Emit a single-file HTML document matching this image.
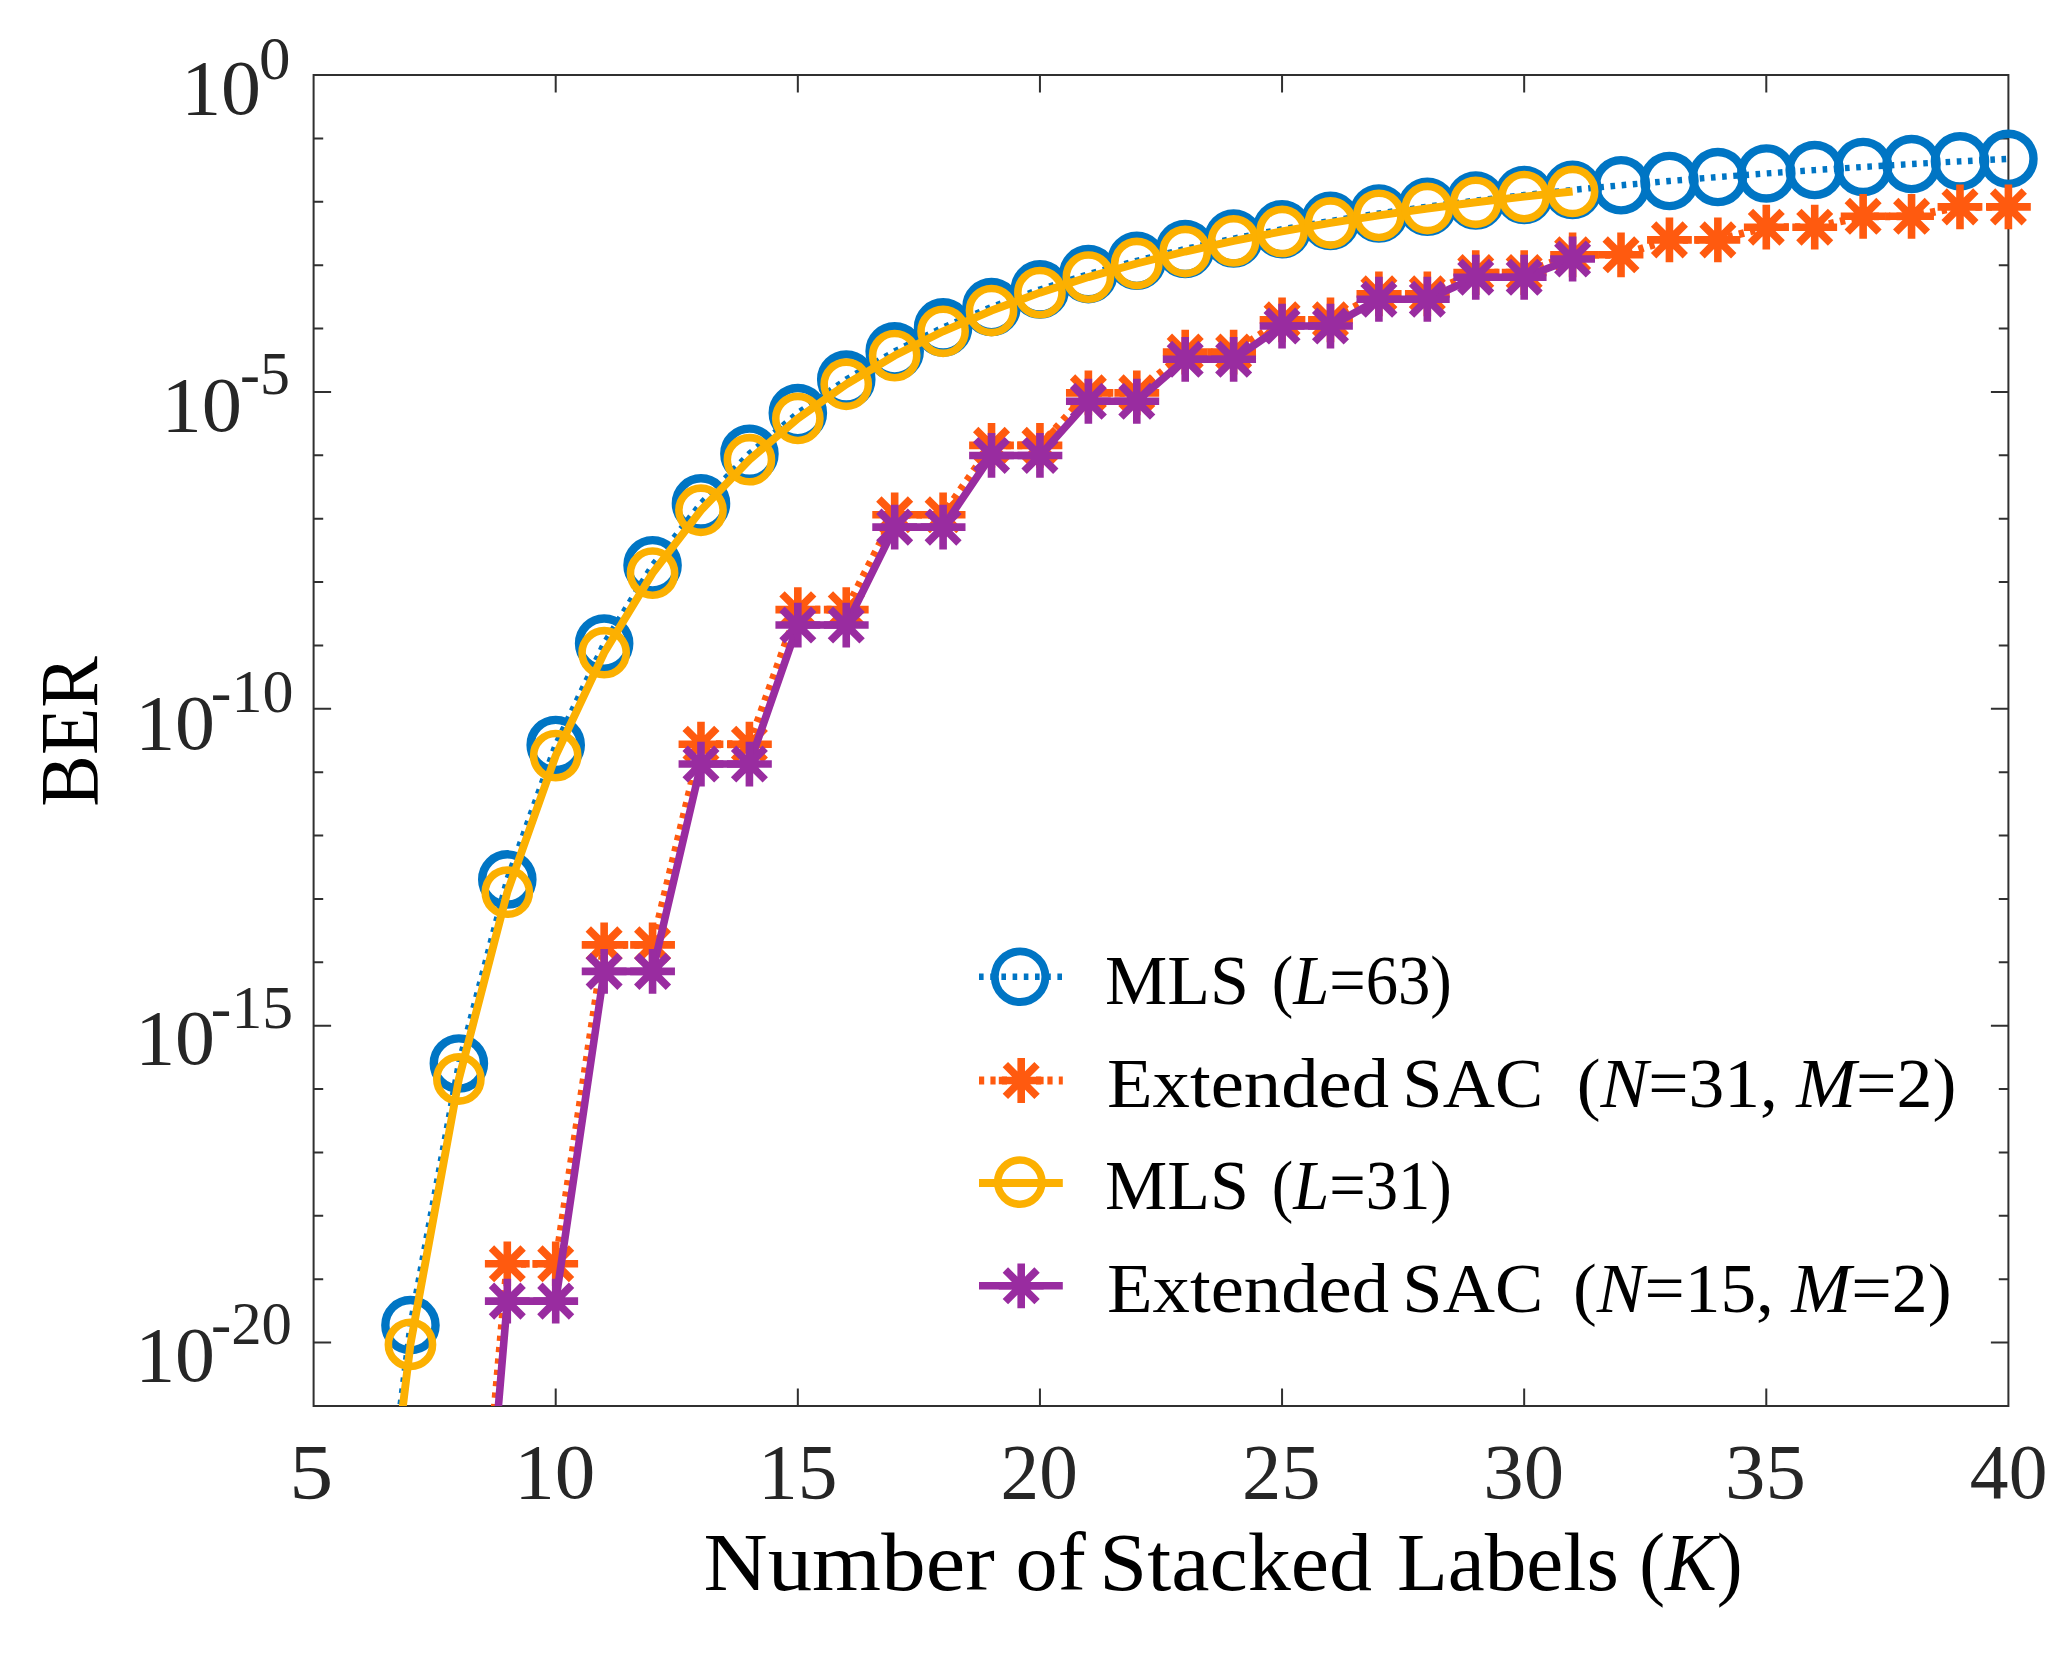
<!DOCTYPE html>
<html><head><meta charset="utf-8"><title>BER vs Number of Stacked Labels</title>
<style>html,body{margin:0;padding:0;background:#fff;overflow:hidden}svg{display:block}text{font-family:"Liberation Serif",serif}</style></head><body>
<svg width="2065" height="1659" viewBox="0 0 2065 1659">
<rect width="2065" height="1659" fill="#fff"/>
<defs><clipPath id="ax"><rect x="313.6" y="75" width="1694.8" height="1331"/></clipPath></defs>
<g stroke="#303030" stroke-width="2" fill="none"><rect x="313.6" y="75" width="1694.8" height="1331"/><path d="M555.71 1406v-17.5M555.71 75v17.5M797.83 1406v-17.5M797.83 75v17.5M1039.94 1406v-17.5M1039.94 75v17.5M1282.06 1406v-17.5M1282.06 75v17.5M1524.17 1406v-17.5M1524.17 75v17.5M1766.29 1406v-17.5M1766.29 75v17.5M313.6 138.38h9.6M2008.4 138.38h-9.6M313.6 201.76h9.6M2008.4 201.76h-9.6M313.6 265.14h9.6M2008.4 265.14h-9.6M313.6 328.52h9.6M2008.4 328.52h-9.6M313.6 391.9h17.5M2008.4 391.9h-17.5M313.6 455.29h9.6M2008.4 455.29h-9.6M313.6 518.67h9.6M2008.4 518.67h-9.6M313.6 582.05h9.6M2008.4 582.05h-9.6M313.6 645.43h9.6M2008.4 645.43h-9.6M313.6 708.81h17.5M2008.4 708.81h-17.5M313.6 772.19h9.6M2008.4 772.19h-9.6M313.6 835.57h9.6M2008.4 835.57h-9.6M313.6 898.95h9.6M2008.4 898.95h-9.6M313.6 962.33h9.6M2008.4 962.33h-9.6M313.6 1025.71h17.5M2008.4 1025.71h-17.5M313.6 1089.1h9.6M2008.4 1089.1h-9.6M313.6 1152.48h9.6M2008.4 1152.48h-9.6M313.6 1215.86h9.6M2008.4 1215.86h-9.6M313.6 1279.24h9.6M2008.4 1279.24h-9.6M313.6 1342.62h17.5M2008.4 1342.62h-17.5"/></g>
<g clip-path="url(#ax)"><polyline points="362.02,1715.56 410.45,1325.14 458.87,1063.48 507.29,879.42 555.71,744.93 604.14,643.59 652.56,565.26 700.98,503.42 749.41,453.7 797.83,413.08 846.25,379.46 894.67,351.28 943.1,327.41 991.52,307.01 1039.94,289.41 1088.37,274.12 1136.79,260.74 1185.21,248.96 1233.63,238.52 1282.06,229.23 1330.48,220.91 1378.9,213.43 1427.33,206.68 1475.75,200.56 1524.17,195 1572.59,189.92 1621.02,185.27 1669.44,181 1717.86,177.07 1766.29,173.43 1814.71,170.07 1863.13,166.95 1911.55,164.05 1959.98,161.35 2008.4,158.83" fill="none" stroke="#0075c4" stroke-width="6.4" stroke-dasharray="4.6 6.6"/></g>
<g fill="none" stroke="#0075c4" stroke-width="8.4"><circle cx="410.45" cy="1325.14" r="25.1"/><circle cx="458.87" cy="1063.48" r="25.1"/><circle cx="507.29" cy="879.42" r="25.1"/><circle cx="555.71" cy="744.93" r="25.1"/><circle cx="604.14" cy="643.59" r="25.1"/><circle cx="652.56" cy="565.26" r="25.1"/><circle cx="700.98" cy="503.42" r="25.1"/><circle cx="749.41" cy="453.7" r="25.1"/><circle cx="797.83" cy="413.08" r="25.1"/><circle cx="846.25" cy="379.46" r="25.1"/><circle cx="894.67" cy="351.28" r="25.1"/><circle cx="943.1" cy="327.41" r="25.1"/><circle cx="991.52" cy="307.01" r="25.1"/><circle cx="1039.94" cy="289.41" r="25.1"/><circle cx="1088.37" cy="274.12" r="25.1"/><circle cx="1136.79" cy="260.74" r="25.1"/><circle cx="1185.21" cy="248.96" r="25.1"/><circle cx="1233.63" cy="238.52" r="25.1"/><circle cx="1282.06" cy="229.23" r="25.1"/><circle cx="1330.48" cy="220.91" r="25.1"/><circle cx="1378.9" cy="213.43" r="25.1"/><circle cx="1427.33" cy="206.68" r="25.1"/><circle cx="1475.75" cy="200.56" r="25.1"/><circle cx="1524.17" cy="195" r="25.1"/><circle cx="1572.59" cy="189.92" r="25.1"/><circle cx="1621.02" cy="185.27" r="25.1"/><circle cx="1669.44" cy="181" r="25.1"/><circle cx="1717.86" cy="177.07" r="25.1"/><circle cx="1766.29" cy="173.43" r="25.1"/><circle cx="1814.71" cy="170.07" r="25.1"/><circle cx="1863.13" cy="166.95" r="25.1"/><circle cx="1911.55" cy="164.05" r="25.1"/><circle cx="1959.98" cy="161.35" r="25.1"/><circle cx="2008.4" cy="158.83" r="25.1"/></g>
<g clip-path="url(#ax)"><polyline points="458.87,1817.99 507.29,1263.8 555.71,1263.8 604.14,944.86 652.56,944.86 700.98,744.26 749.41,744.26 797.83,609.66 846.25,609.66 894.67,514.81 943.1,514.81 991.52,445.34 1039.94,445.34 1088.37,392.84 1136.79,392.84 1185.21,352.14 1233.63,352.14 1282.06,319.89 1330.48,319.89 1378.9,293.87 1427.33,293.87 1475.75,272.53 1524.17,272.53 1572.59,254.8 1621.02,254.8 1669.44,239.88 1717.86,239.88 1766.29,227.2 1814.71,227.2 1863.13,216.31 1911.55,216.31 1959.98,206.88 2008.4,206.88" fill="none" stroke="#ff5a0f" stroke-width="7.8" stroke-dasharray="5.2 6.2"/></g>
<g><path d="M484.89 1263.8H529.69M507.29 1241.4V1286.2M491.45 1247.96L523.13 1279.63M491.45 1279.63L523.13 1247.96" stroke="#ff5a0f" stroke-width="7.6" fill="none"/><path d="M533.31 1263.8H578.11M555.71 1241.4V1286.2M539.88 1247.96L571.55 1279.63M539.88 1279.63L571.55 1247.96" stroke="#ff5a0f" stroke-width="7.6" fill="none"/><path d="M581.74 944.86H626.54M604.14 922.46V967.26M588.3 929.02L619.98 960.7M588.3 960.7L619.98 929.02" stroke="#ff5a0f" stroke-width="7.6" fill="none"/><path d="M630.16 944.86H674.96M652.56 922.46V967.26M636.72 929.02L668.4 960.7M636.72 960.7L668.4 929.02" stroke="#ff5a0f" stroke-width="7.6" fill="none"/><path d="M678.58 744.26H723.38M700.98 721.86V766.66M685.14 728.42L716.82 760.1M685.14 760.1L716.82 728.42" stroke="#ff5a0f" stroke-width="7.6" fill="none"/><path d="M727.01 744.26H771.81M749.41 721.86V766.66M733.57 728.42L765.24 760.1M733.57 760.1L765.24 728.42" stroke="#ff5a0f" stroke-width="7.6" fill="none"/><path d="M775.43 609.66H820.23M797.83 587.26V632.06M781.99 593.82L813.67 625.5M781.99 625.5L813.67 593.82" stroke="#ff5a0f" stroke-width="7.6" fill="none"/><path d="M823.85 609.66H868.65M846.25 587.26V632.06M830.41 593.82L862.09 625.5M830.41 625.5L862.09 593.82" stroke="#ff5a0f" stroke-width="7.6" fill="none"/><path d="M872.27 514.81H917.07M894.67 492.41V537.21M878.84 498.97L910.51 530.65M878.84 530.65L910.51 498.97" stroke="#ff5a0f" stroke-width="7.6" fill="none"/><path d="M920.7 514.81H965.5M943.1 492.41V537.21M927.26 498.97L958.94 530.65M927.26 530.65L958.94 498.97" stroke="#ff5a0f" stroke-width="7.6" fill="none"/><path d="M969.12 445.34H1013.92M991.52 422.94V467.74M975.68 429.5L1007.36 461.18M975.68 461.18L1007.36 429.5" stroke="#ff5a0f" stroke-width="7.6" fill="none"/><path d="M1017.54 445.34H1062.34M1039.94 422.94V467.74M1024.1 429.5L1055.78 461.18M1024.1 461.18L1055.78 429.5" stroke="#ff5a0f" stroke-width="7.6" fill="none"/><path d="M1065.97 392.84H1110.77M1088.37 370.44V415.24M1072.53 377L1104.2 408.68M1072.53 408.68L1104.2 377" stroke="#ff5a0f" stroke-width="7.6" fill="none"/><path d="M1114.39 392.84H1159.19M1136.79 370.44V415.24M1120.95 377L1152.63 408.68M1120.95 408.68L1152.63 377" stroke="#ff5a0f" stroke-width="7.6" fill="none"/><path d="M1162.81 352.14H1207.61M1185.21 329.74V374.54M1169.37 336.3L1201.05 367.97M1169.37 367.97L1201.05 336.3" stroke="#ff5a0f" stroke-width="7.6" fill="none"/><path d="M1211.23 352.14H1256.03M1233.63 329.74V374.54M1217.8 336.3L1249.47 367.97M1217.8 367.97L1249.47 336.3" stroke="#ff5a0f" stroke-width="7.6" fill="none"/><path d="M1259.66 319.89H1304.46M1282.06 297.49V342.29M1266.22 304.05L1297.9 335.73M1266.22 335.73L1297.9 304.05" stroke="#ff5a0f" stroke-width="7.6" fill="none"/><path d="M1308.08 319.89H1352.88M1330.48 297.49V342.29M1314.64 304.05L1346.32 335.73M1314.64 335.73L1346.32 304.05" stroke="#ff5a0f" stroke-width="7.6" fill="none"/><path d="M1356.5 293.87H1401.3M1378.9 271.47V316.27M1363.06 278.03L1394.74 309.7M1363.06 309.7L1394.74 278.03" stroke="#ff5a0f" stroke-width="7.6" fill="none"/><path d="M1404.93 293.87H1449.73M1427.33 271.47V316.27M1411.49 278.03L1443.16 309.7M1411.49 309.7L1443.16 278.03" stroke="#ff5a0f" stroke-width="7.6" fill="none"/><path d="M1453.35 272.53H1498.15M1475.75 250.13V294.93M1459.91 256.69L1491.59 288.37M1459.91 288.37L1491.59 256.69" stroke="#ff5a0f" stroke-width="7.6" fill="none"/><path d="M1501.77 272.53H1546.57M1524.17 250.13V294.93M1508.33 256.69L1540.01 288.37M1508.33 288.37L1540.01 256.69" stroke="#ff5a0f" stroke-width="7.6" fill="none"/><path d="M1550.19 254.8H1594.99M1572.59 232.4V277.2M1556.76 238.96L1588.43 270.64M1556.76 270.64L1588.43 238.96" stroke="#ff5a0f" stroke-width="7.6" fill="none"/><path d="M1598.62 254.8H1643.42M1621.02 232.4V277.2M1605.18 238.96L1636.86 270.64M1605.18 270.64L1636.86 238.96" stroke="#ff5a0f" stroke-width="7.6" fill="none"/><path d="M1647.04 239.88H1691.84M1669.44 217.48V262.28M1653.6 224.04L1685.28 255.72M1653.6 255.72L1685.28 224.04" stroke="#ff5a0f" stroke-width="7.6" fill="none"/><path d="M1695.46 239.88H1740.26M1717.86 217.48V262.28M1702.02 224.04L1733.7 255.72M1702.02 255.72L1733.7 224.04" stroke="#ff5a0f" stroke-width="7.6" fill="none"/><path d="M1743.89 227.2H1788.69M1766.29 204.8V249.6M1750.45 211.36L1782.12 243.04M1750.45 243.04L1782.12 211.36" stroke="#ff5a0f" stroke-width="7.6" fill="none"/><path d="M1792.31 227.2H1837.11M1814.71 204.8V249.6M1798.87 211.36L1830.55 243.04M1798.87 243.04L1830.55 211.36" stroke="#ff5a0f" stroke-width="7.6" fill="none"/><path d="M1840.73 216.31H1885.53M1863.13 193.91V238.71M1847.29 200.47L1878.97 232.15M1847.29 232.15L1878.97 200.47" stroke="#ff5a0f" stroke-width="7.6" fill="none"/><path d="M1889.15 216.31H1933.95M1911.55 193.91V238.71M1895.72 200.47L1927.39 232.15M1895.72 232.15L1927.39 200.47" stroke="#ff5a0f" stroke-width="7.6" fill="none"/><path d="M1937.58 206.88H1982.38M1959.98 184.48V229.28M1944.14 191.04L1975.82 222.72M1944.14 222.72L1975.82 191.04" stroke="#ff5a0f" stroke-width="7.6" fill="none"/><path d="M1986 206.88H2030.8M2008.4 184.48V229.28M1992.56 191.04L2024.24 222.72M1992.56 222.72L2024.24 191.04" stroke="#ff5a0f" stroke-width="7.6" fill="none"/></g>
<g clip-path="url(#ax)"><polyline points="362.02,1740.08 410.45,1344.41 458.87,1079.01 507.29,892.21 555.71,755.65 604.14,652.71 652.56,573.13 700.98,510.27 749.41,459.72 797.83,418.43 846.25,384.24 894.67,355.59 943.1,331.31 991.52,310.56 1039.94,292.66 1088.37,277.11 1136.79,263.5 1185.21,251.52 1233.63,240.9 1282.06,231.45 1330.48,222.98 1378.9,215.38 1427.33,208.51 1475.75,202.29 1524.17,196.63 1572.59,191.47" fill="none" stroke="#fcb001" stroke-width="7.9" stroke-linejoin="round"/></g>
<g fill="none" stroke="#fcb001" stroke-width="7.6"><circle cx="410.45" cy="1344.41" r="22.1"/><circle cx="458.87" cy="1079.01" r="22.1"/><circle cx="507.29" cy="892.21" r="22.1"/><circle cx="555.71" cy="755.65" r="22.1"/><circle cx="604.14" cy="652.71" r="22.1"/><circle cx="652.56" cy="573.13" r="22.1"/><circle cx="700.98" cy="510.27" r="22.1"/><circle cx="749.41" cy="459.72" r="22.1"/><circle cx="797.83" cy="418.43" r="22.1"/><circle cx="846.25" cy="384.24" r="22.1"/><circle cx="894.67" cy="355.59" r="22.1"/><circle cx="943.1" cy="331.31" r="22.1"/><circle cx="991.52" cy="310.56" r="22.1"/><circle cx="1039.94" cy="292.66" r="22.1"/><circle cx="1088.37" cy="277.11" r="22.1"/><circle cx="1136.79" cy="263.5" r="22.1"/><circle cx="1185.21" cy="251.52" r="22.1"/><circle cx="1233.63" cy="240.9" r="22.1"/><circle cx="1282.06" cy="231.45" r="22.1"/><circle cx="1330.48" cy="222.98" r="22.1"/><circle cx="1378.9" cy="215.38" r="22.1"/><circle cx="1427.33" cy="208.51" r="22.1"/><circle cx="1475.75" cy="202.29" r="22.1"/><circle cx="1524.17" cy="196.63" r="22.1"/><circle cx="1572.59" cy="191.47" r="22.1"/></g>
<g clip-path="url(#ax)"><polyline points="458.87,1874.62 507.29,1301.13 555.71,1301.13 604.14,971.36 652.56,971.36 700.98,764.06 749.41,764.06 797.83,625.04 846.25,625.04 894.67,527.12 943.1,527.12 991.52,455.43 1039.94,455.43 1088.37,401.27 1136.79,401.27 1185.21,359.3 1233.63,359.3 1282.06,326.06 1330.48,326.06 1378.9,299.24 1427.33,299.24 1475.75,277.27 1524.17,277.27 1572.59,259" fill="none" stroke="#992ca0" stroke-width="7.6" stroke-linejoin="round"/></g>
<g><path d="M484.89 1301.13H529.69M507.29 1278.73V1323.53M491.45 1285.29L523.13 1316.97M491.45 1316.97L523.13 1285.29" stroke="#992ca0" stroke-width="7.6" fill="none"/><path d="M533.31 1301.13H578.11M555.71 1278.73V1323.53M539.88 1285.29L571.55 1316.97M539.88 1316.97L571.55 1285.29" stroke="#992ca0" stroke-width="7.6" fill="none"/><path d="M581.74 971.36H626.54M604.14 948.96V993.76M588.3 955.52L619.98 987.19M588.3 987.19L619.98 955.52" stroke="#992ca0" stroke-width="7.6" fill="none"/><path d="M630.16 971.36H674.96M652.56 948.96V993.76M636.72 955.52L668.4 987.19M636.72 987.19L668.4 955.52" stroke="#992ca0" stroke-width="7.6" fill="none"/><path d="M678.58 764.06H723.38M700.98 741.66V786.46M685.14 748.22L716.82 779.89M685.14 779.89L716.82 748.22" stroke="#992ca0" stroke-width="7.6" fill="none"/><path d="M727.01 764.06H771.81M749.41 741.66V786.46M733.57 748.22L765.24 779.89M733.57 779.89L765.24 748.22" stroke="#992ca0" stroke-width="7.6" fill="none"/><path d="M775.43 625.04H820.23M797.83 602.64V647.44M781.99 609.2L813.67 640.88M781.99 640.88L813.67 609.2" stroke="#992ca0" stroke-width="7.6" fill="none"/><path d="M823.85 625.04H868.65M846.25 602.64V647.44M830.41 609.2L862.09 640.88M830.41 640.88L862.09 609.2" stroke="#992ca0" stroke-width="7.6" fill="none"/><path d="M872.27 527.12H917.07M894.67 504.72V549.52M878.84 511.28L910.51 542.96M878.84 542.96L910.51 511.28" stroke="#992ca0" stroke-width="7.6" fill="none"/><path d="M920.7 527.12H965.5M943.1 504.72V549.52M927.26 511.28L958.94 542.96M927.26 542.96L958.94 511.28" stroke="#992ca0" stroke-width="7.6" fill="none"/><path d="M969.12 455.43H1013.92M991.52 433.03V477.83M975.68 439.59L1007.36 471.27M975.68 471.27L1007.36 439.59" stroke="#992ca0" stroke-width="7.6" fill="none"/><path d="M1017.54 455.43H1062.34M1039.94 433.03V477.83M1024.1 439.59L1055.78 471.27M1024.1 471.27L1055.78 439.59" stroke="#992ca0" stroke-width="7.6" fill="none"/><path d="M1065.97 401.27H1110.77M1088.37 378.87V423.67M1072.53 385.44L1104.2 417.11M1072.53 417.11L1104.2 385.44" stroke="#992ca0" stroke-width="7.6" fill="none"/><path d="M1114.39 401.27H1159.19M1136.79 378.87V423.67M1120.95 385.44L1152.63 417.11M1120.95 417.11L1152.63 385.44" stroke="#992ca0" stroke-width="7.6" fill="none"/><path d="M1162.81 359.3H1207.61M1185.21 336.9V381.7M1169.37 343.46L1201.05 375.14M1169.37 375.14L1201.05 343.46" stroke="#992ca0" stroke-width="7.6" fill="none"/><path d="M1211.23 359.3H1256.03M1233.63 336.9V381.7M1217.8 343.46L1249.47 375.14M1217.8 375.14L1249.47 343.46" stroke="#992ca0" stroke-width="7.6" fill="none"/><path d="M1259.66 326.06H1304.46M1282.06 303.66V348.46M1266.22 310.22L1297.9 341.9M1266.22 341.9L1297.9 310.22" stroke="#992ca0" stroke-width="7.6" fill="none"/><path d="M1308.08 326.06H1352.88M1330.48 303.66V348.46M1314.64 310.22L1346.32 341.9M1314.64 341.9L1346.32 310.22" stroke="#992ca0" stroke-width="7.6" fill="none"/><path d="M1356.5 299.24H1401.3M1378.9 276.84V321.64M1363.06 283.4L1394.74 315.08M1363.06 315.08L1394.74 283.4" stroke="#992ca0" stroke-width="7.6" fill="none"/><path d="M1404.93 299.24H1449.73M1427.33 276.84V321.64M1411.49 283.4L1443.16 315.08M1411.49 315.08L1443.16 283.4" stroke="#992ca0" stroke-width="7.6" fill="none"/><path d="M1453.35 277.27H1498.15M1475.75 254.87V299.67M1459.91 261.43L1491.59 293.1M1459.91 293.1L1491.59 261.43" stroke="#992ca0" stroke-width="7.6" fill="none"/><path d="M1501.77 277.27H1546.57M1524.17 254.87V299.67M1508.33 261.43L1540.01 293.1M1508.33 293.1L1540.01 261.43" stroke="#992ca0" stroke-width="7.6" fill="none"/><path d="M1550.19 259H1594.99M1572.59 236.6V281.4M1556.76 243.16L1588.43 274.84M1556.76 274.84L1588.43 243.16" stroke="#992ca0" stroke-width="7.6" fill="none"/></g>
<path d="M979 976.7H1062.8" stroke="#0075c4" stroke-width="6.4" stroke-dasharray="4.6 6.6" fill="none"/>
<circle cx="1020.1" cy="976.7" r="25.3" fill="none" stroke="#0075c4" stroke-width="7.9"/>
<path d="M979 1080.5H1062.8" stroke="#ff5a0f" stroke-width="7.8" stroke-dasharray="5.2 6.2" fill="none"/>
<path d="M998.8 1080.5H1043.6M1021.2 1058.1V1102.9M1005.36 1064.66L1037.04 1096.34M1005.36 1096.34L1037.04 1064.66" stroke="#ff5a0f" stroke-width="7.6" fill="none"/>
<path d="M979 1183.1H1062.8" stroke="#fcb001" stroke-width="8" fill="none"/>
<circle cx="1019.8" cy="1182.1" r="22.1" fill="none" stroke="#fcb001" stroke-width="7.6"/>
<path d="M979 1285.8H1062.8" stroke="#992ca0" stroke-width="7.5" fill="none"/>
<path d="M998.8 1285.8H1043.6M1021.2 1263.4V1308.2M1005.36 1269.96L1037.04 1301.64M1005.36 1301.64L1037.04 1269.96" stroke="#992ca0" stroke-width="7.6" fill="none"/>
<text transform="translate(311.17 1498.3) scale(1.1292 1)" font-size="78" text-anchor="middle" fill="#262626" id="xt5">5</text>
<text transform="translate(554.74 1498.3) scale(1.0397 1)" font-size="78" text-anchor="middle" fill="#262626" id="xt10">10</text>
<text transform="translate(797.83 1498.3) scale(1.02 1)" font-size="78" text-anchor="middle" fill="#262626" id="xt15">15</text>
<text transform="translate(1039.16 1498.3) scale(0.9896 1)" font-size="78" text-anchor="middle" fill="#262626" id="xt20">20</text>
<text transform="translate(1281.21 1498.3) scale(1.0079 1)" font-size="78" text-anchor="middle" fill="#262626" id="xt25">25</text>
<text transform="translate(1523.72 1498.3) scale(1.0355 1)" font-size="78" text-anchor="middle" fill="#262626" id="xt30">30</text>
<text transform="translate(1765.43 1498.3) scale(1.0359 1)" font-size="78" text-anchor="middle" fill="#262626" id="xt35">35</text>
<text transform="translate(2008.63 1498.3) scale(0.9942 1)" font-size="78" text-anchor="middle" fill="#262626" id="xt40">40</text>
<text transform="translate(290.49 78.5) scale(1.0149 1)" font-size="62" text-anchor="end" fill="#262626" id="ye0">0</text>
<text transform="translate(261.03 113.9) scale(1.0245 1)" font-size="78" text-anchor="end" fill="#262626" id="ym0">10</text>
<text transform="translate(289.85 393.6) scale(0.9665 1)" font-size="62" text-anchor="end" fill="#262626" id="ye5">-5</text>
<text transform="translate(241.94 431) scale(1.0318 1)" font-size="78" text-anchor="end" fill="#262626" id="ym5">10</text>
<text transform="translate(293.54 712) scale(1.0008 1)" font-size="62" text-anchor="end" fill="#262626" id="ye10">-10</text>
<text transform="translate(215.06 749.3) scale(1.0247 1)" font-size="78" text-anchor="end" fill="#262626" id="ym10">10</text>
<text transform="translate(293.02 1028.1) scale(0.9942 1)" font-size="62" text-anchor="end" fill="#262626" id="ye15">-15</text>
<text transform="translate(215.06 1063.9) scale(1.0247 1)" font-size="78" text-anchor="end" fill="#262626" id="ym15">10</text>
<text transform="translate(291.96 1343.9) scale(0.9808 1)" font-size="62" text-anchor="end" fill="#262626" id="ye20">-20</text>
<text transform="translate(215.06 1380.7) scale(1.0247 1)" font-size="78" text-anchor="end" fill="#262626" id="ym20">10</text>
<text transform="translate(1105.12 1004.1) scale(0.9887 1)" font-size="70.8" text-anchor="start" fill="#000" id="l1a">MLS</text>
<text transform="translate(1271.75 1004.1) scale(0.9131 1)" font-size="70.8" text-anchor="start" fill="#000" id="l1b">(<tspan font-style="italic">L</tspan>=63)</text>
<text transform="translate(1106.99 1107.1) scale(1.0553 1)" font-size="70.8" text-anchor="start" fill="#000" id="l2a">Extended</text>
<text transform="translate(1402.37 1107.1) scale(1.0227 1)" font-size="70.8" text-anchor="start" fill="#000" id="l2s">SAC</text>
<text transform="translate(1576.68 1107.1) scale(1.0101 1)" font-size="70.8" text-anchor="start" fill="#000" id="l2b">(<tspan font-style="italic">N</tspan>=31,</text>
<text transform="translate(1796.13 1107.1) scale(1.016 1)" font-size="70.8" text-anchor="start" fill="#000" id="l2c"><tspan font-style="italic">M</tspan>=2)</text>
<text transform="translate(1105.12 1208.8) scale(0.9887 1)" font-size="70.8" text-anchor="start" fill="#000" id="l3a">MLS</text>
<text transform="translate(1271.75 1208.8) scale(0.9131 1)" font-size="70.8" text-anchor="start" fill="#000" id="l3b">(<tspan font-style="italic">L</tspan>=31)</text>
<text transform="translate(1106.99 1311.9) scale(1.0553 1)" font-size="70.8" text-anchor="start" fill="#000" id="l4a">Extended</text>
<text transform="translate(1402.37 1311.9) scale(1.0227 1)" font-size="70.8" text-anchor="start" fill="#000" id="l4s">SAC</text>
<text transform="translate(1573.08 1311.9) scale(1.008 1)" font-size="70.8" text-anchor="start" fill="#000" id="l4b">(<tspan font-style="italic">N</tspan>=15,</text>
<text transform="translate(1791.21 1311.9) scale(1.0159 1)" font-size="70.8" text-anchor="start" fill="#000" id="l4c"><tspan font-style="italic">M</tspan>=2)</text>
<text transform="translate(703.51 1589.5) scale(1.0839 1)" font-size="82" text-anchor="start" fill="#000" id="xl1">Number</text>
<text transform="translate(1015.48 1589.5) scale(1.0284 1)" font-size="82" text-anchor="start" fill="#000" id="xl2">of</text>
<text transform="translate(1099.35 1589.5) scale(1.0509 1)" font-size="82" text-anchor="start" fill="#000" id="xl3">Stacked</text>
<text transform="translate(1396.95 1589.5) scale(1.0153 1)" font-size="82" text-anchor="start" fill="#000" id="xl4">Labels</text>
<text transform="translate(1639.25 1589.5) scale(0.9453 1)" font-size="82" text-anchor="start" fill="#000" id="xl5">(<tspan font-style="italic">K</tspan>)</text>
<text transform="translate(96.8 806.69) rotate(-90) scale(0.9446 1)" font-size="82" fill="#000" id="yl">BER</text>
</svg></body></html>
